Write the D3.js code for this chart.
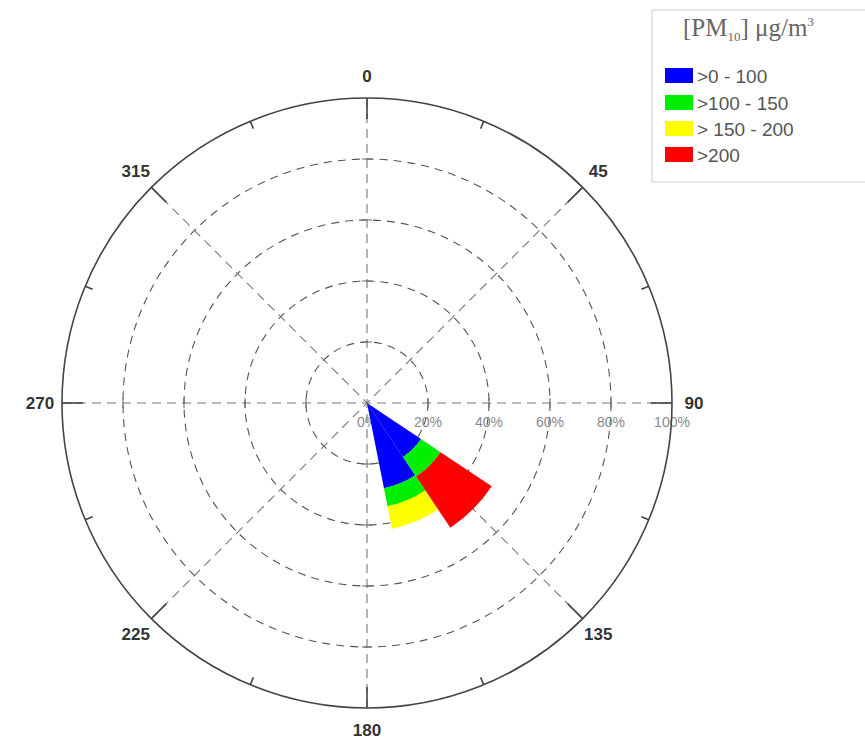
<!DOCTYPE html>
<html>
<head>
<meta charset="utf-8">
<script src="https://cdn.jsdelivr.net/npm/d3@7"></script>
<style>
  html, body { margin: 0; padding: 0; background: #fff; }
  svg { display: block; }
</style>
</head>
<body>
<svg id="chart" width="865" height="741"></svg>
<script>
// ---- data ----
const directions = [0, 22.5, 45, 67.5, 90, 112.5, 135, 157.5, 180, 202.5, 225, 247.5, 270, 292.5, 315, 337.5];
const classNames = [">0 - 100", ">100 - 150", "> 150 - 200", ">200"];
const classColors = ["#0000ff", "#00ee00", "#ffff00", "#ff0000"];
// frequency (%) per direction for each concentration class
const pm0_100   = [0, 0, 0, 0, 0, 0, 21.3, 28.5, 0, 0, 0, 0, 0, 0, 0, 0];
const pm100_150 = [0, 0, 0, 0, 0, 0, 7.7, 6.0, 0, 0, 0, 0, 0, 0, 0, 0];
const pm150_200 = [0, 0, 0, 0, 0, 0, 0, 7.5, 0, 0, 0, 0, 0, 0, 0, 0];
const pm200     = [0, 0, 0, 0, 0, 0, 20.2, 0, 0, 0, 0, 0, 0, 0, 0, 0];
const radialTicks = [0, 20, 40, 60, 80, 100];
const radialTickLabels = ["0%", "20%", "40%", "60%", "80%", "100%"];
const angleLabels = [0, 45, 90, 135, 180, 225, 270, 315];

// ---- layout ----
const svg = d3.select("#chart");
const cx = 367, cy = 403, R = 305;
const r = d3.scaleLinear().domain([0, 100]).range([0, R]);
const g = svg.append("g").attr("transform", `translate(${cx},${cy})`);
const rad = d => d * Math.PI / 180;
const px = (deg, rr) => Math.sin(rad(deg)) * rr;
const py = (deg, rr) => -Math.cos(rad(deg)) * rr;

// dashed grid circles
g.selectAll("circle.grid").data(radialTicks.filter(v => v > 0 && v < 100)).enter()
  .append("circle").attr("class", "grid")
  .attr("r", d => r(d)).attr("fill", "none")
  .attr("stroke", "#555").attr("stroke-width", 1.1)
  .attr("stroke-dasharray", "8,6");

// dashed axis lines through centre
[0, 45, 90, 135].forEach(a => {
  g.append("line")
    .attr("x1", px(a + 180, R)).attr("y1", py(a + 180, R))
    .attr("x2", px(a, R)).attr("y2", py(a, R))
    .attr("stroke", "#777").attr("stroke-width", 1.1)
    .attr("stroke-dasharray", "9,6");
});

// small ticks on the four main axes
[0, 90, 180, 270].forEach(a => {
  radialTicks.filter(v => v > 0 && v < 100).forEach(v => {
    const x = px(a, r(v)), y = py(a, r(v));
    const nx = Math.cos(rad(a)) * 5, ny = Math.sin(rad(a)) * 5;
    g.append("line").attr("x1", x - nx).attr("y1", y - ny).attr("x2", x + nx).attr("y2", y + ny)
      .attr("stroke", "#666").attr("stroke-width", 1);
  });
});

// radial labels
g.selectAll("text.rl").data(radialTicks).enter().append("text")
  .attr("x", d => r(d)).attr("y", 24)
  .attr("text-anchor", "middle")
  .attr("font-family", "Liberation Sans, Arial, sans-serif")
  .attr("font-size", 14).attr("fill", "#888")
  .text((d, i) => radialTickLabels[i]);

// wedges
const table = directions.map((d, i) => ({dir: d, c0: pm0_100[i], c1: pm100_150[i], c2: pm150_200[i], c3: pm200[i]}));
const stack = d3.stack().keys(["c0", "c1", "c2", "c3"]);
const layers = stack(table);
const arc = d3.arc();
layers.forEach((layer, k) => {
  g.append("g").selectAll("path").data(layer.filter(s => s[1] - s[0] > 0)).enter()
    .append("path")
    .attr("d", s => arc({
      innerRadius: r(s[0]), outerRadius: r(s[1]),
      startAngle: rad(s.data.dir - 11.25), endAngle: rad(s.data.dir + 11.25)
    }))
    .attr("fill", classColors[k]);
});

// outer circle
g.append("circle").attr("r", R).attr("fill", "none").attr("stroke", "#444").attr("stroke-width", 1.6);

// ticks on outer circle
d3.range(0, 360, 22.5).forEach(a => {
  const len = (a % 45 === 0) ? 21 : 8;
  g.append("line")
    .attr("x1", px(a, R)).attr("y1", py(a, R))
    .attr("x2", px(a, R - len)).attr("y2", py(a, R - len))
    .attr("stroke", "#444").attr("stroke-width", 1.6);
});

// angle labels
g.selectAll("text.ang").data(angleLabels).enter().append("text")
  .attr("x", d => px(d, 327)).attr("y", d => py(d, 327))
  .attr("text-anchor", "middle").attr("dominant-baseline", "central")
  .attr("font-family", "Liberation Sans, Arial, sans-serif").attr("font-weight", "bold")
  .attr("font-size", 17).attr("fill", "#333")
  .text(d => d);

// legend
const lg = svg.append("g");
lg.append("rect").attr("x", 652).attr("y", 10).attr("width", 230).attr("height", 172)
  .attr("fill", "#fff").attr("stroke", "#ccc").attr("stroke-width", 1);
const title = lg.append("text").attr("x", 683).attr("y", 36)
  .attr("font-family", "Liberation Serif, Times New Roman, serif")
  .attr("font-size", 25).attr("fill", "#666");
title.append("tspan").text("[PM");
title.append("tspan").attr("font-size", 13).attr("dy", 5).text("10");
title.append("tspan").attr("dy", -5).text("] μg/m");
title.append("tspan").attr("font-size", 13).attr("dy", -10).text("3");
const rowY = [76, 103, 129, 155];
classNames.forEach((name, i) => {
  lg.append("rect").attr("x", 665).attr("y", rowY[i] - 8).attr("width", 28).attr("height", 15)
    .attr("fill", classColors[i]);
  lg.append("text").attr("x", 697).attr("y", rowY[i]).attr("dominant-baseline", "central")
    .attr("font-family", "Liberation Sans, Arial, sans-serif").attr("font-size", 19)
    .attr("fill", "#555").text(name);
});
</script>
</body>
</html>
